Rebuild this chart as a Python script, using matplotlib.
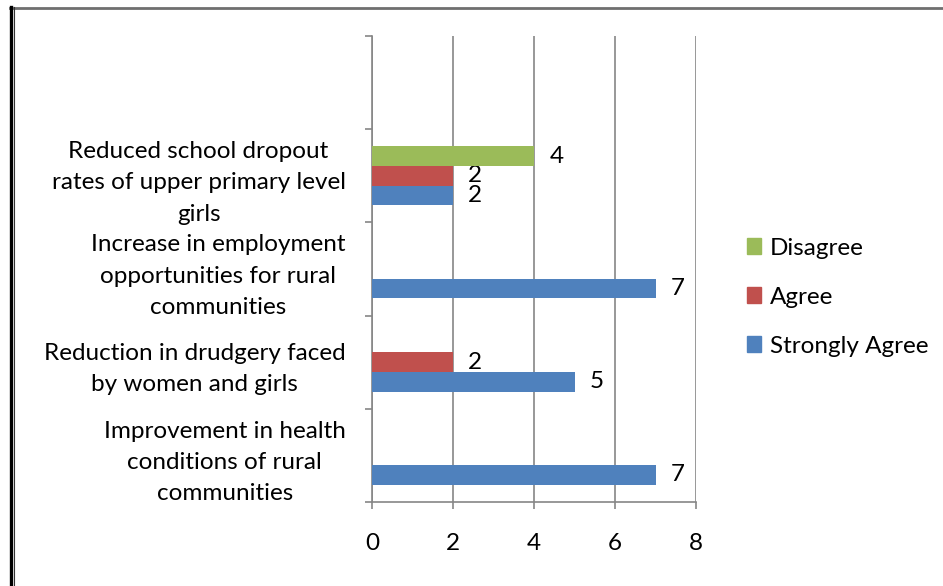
import matplotlib.pyplot as plt
from matplotlib.lines import Line2D
from matplotlib.patches import Patch
import numpy as np

plt.rcParams["font.family"] = ["Lato", "DejaVu Sans"]

categories = [
    "Improvement in health\nconditions of rural\ncommunities",
    "Reduction in drudgery faced\nby women and girls",
    "Increase in employment\nopportunities for rural\ncommunities",
    "Reduced school dropout\nrates of upper primary level\ngirls",
    "",
]
strongly_agree = [7, 5, 7, 2, 0]
agree = [0, 2, 0, 2, 0]
disagree = [0, 0, 0, 4, 0]

series = [
    ("Strongly Agree", strongly_agree, "#4F81BD"),
    ("Agree", agree, "#C0504D"),
    ("Disagree", disagree, "#9BBB59"),
]

fig = plt.figure(figsize=(9.43, 5.86), dpi=100)
ax = fig.add_axes([0.3945, 0.1433, 0.3436, 0.7953])

y = np.arange(len(categories))
h = 0.21
fs = 17.5

for i, (name, vals, col) in enumerate(series):
    pos = y + (i - 1) * h
    ax.barh(pos, vals, height=h, color=col, label=name, zorder=3)
    for p, v in zip(pos, vals):
        if v:
            ax.annotate(str(v), (v, p), xytext=(11, 0), textcoords="offset points",
                        ha="left", va="center", fontsize=fs)

ax.set_xlim(0, 8)
ax.set_ylim(-0.5, len(categories) - 0.5)
ax.set_xticks([0, 2, 4, 6, 8])
ax.tick_params(axis="x", labelsize=fs, length=5, width=1.2, color="#868686", pad=17)
ax.xaxis.grid(True, color="#868686", lw=1.2, zorder=0)

# tick marks at category boundaries, labels at centres
ax.set_yticks(np.arange(-0.5, len(categories)), labels=[""] * (len(categories) + 1))
ax.set_yticks(y, labels=categories, minor=True)
ax.tick_params(axis="y", which="major", length=5, width=1.2, color="#868686")
ax.tick_params(axis="y", which="minor", length=0, labelsize=fs, pad=19)
for t in ax.get_yticklabels(minor=True):
    t.set_multialignment("center")
    t.set_linespacing(1.6)

for s in ["top", "right"]:
    ax.spines[s].set_visible(False)
for s in ["left", "bottom"]:
    ax.spines[s].set_color("#868686")
    ax.spines[s].set_linewidth(1.2)

handles = [Patch(color=c, label=n) for n, _, c in series[::-1]]
fig.legend(handles=handles, loc="center left", bbox_to_anchor=(0.792, 0.493),
           frameon=False, fontsize=fs, handlelength=0.6, handleheight=0.6,
           handletextpad=0.35, labelspacing=1.15, borderaxespad=0, borderpad=0)

# outer frame
fig.add_artist(Line2D([10 / 943, 1], [1 - 8 / 586] * 2, color="#6f6f6f", lw=2))
fig.add_artist(Line2D([11 / 943] * 2, [0, 1 - 7 / 586], color="black", lw=2.4))
fig.add_artist(Line2D([13.8 / 943] * 2, [0, 1 - 7 / 586], color="#333333", lw=0.8))

fig.savefig("out.png", dpi=100)
